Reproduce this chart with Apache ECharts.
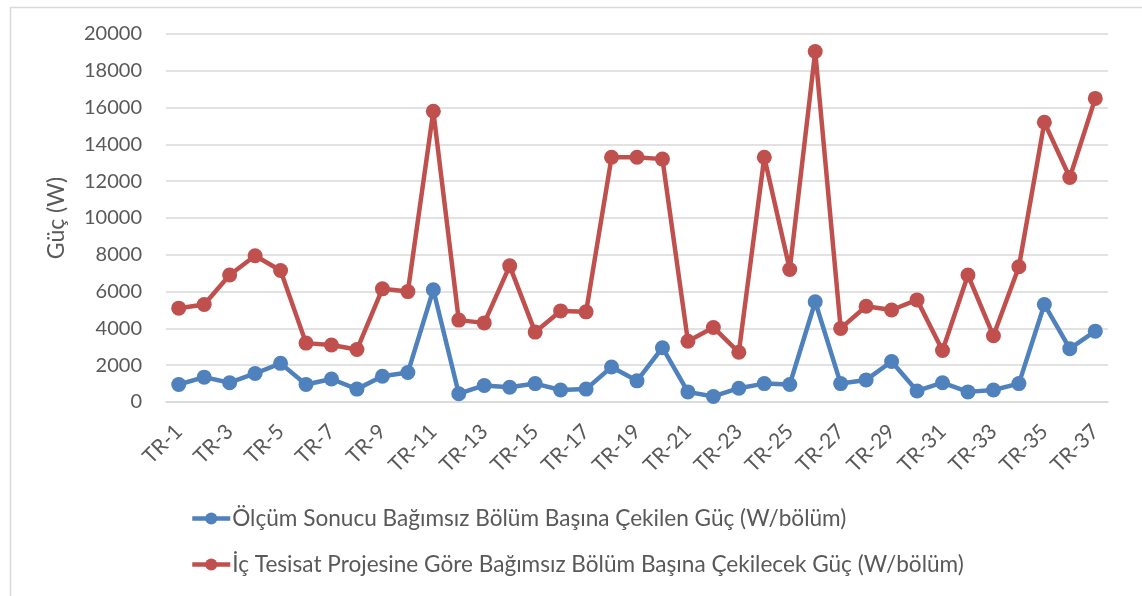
<!DOCTYPE html>
<html>
<head>
<meta charset="utf-8">
<script src="https://cdn.jsdelivr.net/npm/echarts@6/dist/echarts.min.js"></script>
<style>
html,body{margin:0;padding:0;background:#fff;}
#chart{width:1142px;height:596px;}
</style>
</head>
<body>
<div id="chart"></div>
<script>
const categories = ['TR-1','TR-2','TR-3','TR-4','TR-5','TR-6','TR-7','TR-8','TR-9','TR-10','TR-11','TR-12','TR-13','TR-14','TR-15','TR-16','TR-17','TR-18','TR-19','TR-20','TR-21','TR-22','TR-23','TR-24','TR-25','TR-26','TR-27','TR-28','TR-29','TR-30','TR-31','TR-32','TR-33','TR-34','TR-35','TR-36','TR-37'];
const measured = [950,1350,1050,1550,2100,950,1250,700,1400,1600,6100,450,900,800,1000,650,700,1900,1150,2950,550,300,750,1000,950,5450,1000,1200,2200,600,1050,550,650,1000,5300,2900,3850];
const projected = [5100,5300,6900,7950,7150,3200,3100,2850,6150,6000,15800,4450,4300,7400,3800,4950,4900,13300,13300,13200,3300,4050,2700,13300,7200,19050,4000,5200,5000,5550,2800,6900,3600,7350,15200,12200,16500];
const seriesNames = ['Ölçüm Sonucu Bağımsız Bölüm Başına Çekilen Güç (W/bölüm)','İç Tesisat Projesine Göre Bağımsız Bölüm Başına Çekilecek Güç (W/bölüm)'];
const yTitle = 'Güç (W)';

const FONT = 'Lato';
const chart = echarts.init(document.getElementById('chart'), null, {renderer:'canvas'});
chart.setOption({
  animation:false,
  backgroundColor:'#fff',
  graphic:[{type:'rect',left:8,top:5,shape:{width:1200,height:700},style:{fill:'none',stroke:'#d9d9d9',lineWidth:1.5},z:-1,silent:true}],
  grid:{left:166,right:34,top:34,bottom:194,containLabel:false},
  legend:{
    orient:'vertical',left:190,top:507,padding:0,itemGap:23,itemWidth:38,itemHeight:15,
    lineStyle:{width:4.5},
    textStyle:{fontFamily:FONT,fontSize:22.6,color:'#595959',padding:[0,0,0,-3]},
    data:seriesNames
  },
  xAxis:{
    type:'category',data:categories,boundaryGap:true,
    axisLine:{lineStyle:{color:'#d9d9d9',width:1.5}},
    axisTick:{show:false},
    axisLabel:{interval:1,rotate:45,margin:26,fontFamily:FONT,fontSize:21,color:'#595959'}
  },
  yAxis:{
    type:'value',min:0,max:20000,interval:2000,
    name:yTitle,nameLocation:'middle',nameGap:98,nameRotate:90,
    nameTextStyle:{fontFamily:FONT,fontSize:23,color:'#595959'},
    axisLine:{show:false},axisTick:{show:false},
    splitLine:{lineStyle:{color:'#d9d9d9',width:1.5}},
    axisLabel:{margin:24,fontFamily:FONT,fontSize:20,color:'#595959',formatter:v=>String(v)}
  },
  series:[
    {name:seriesNames[0],type:'line',data:measured,symbol:'circle',symbolSize:15,
     lineStyle:{color:'#4F81BD',width:4.5},itemStyle:{color:'#4F81BD'}},
    {name:seriesNames[1],type:'line',data:projected,symbol:'circle',symbolSize:15,
     lineStyle:{color:'#C0504D',width:4.5},itemStyle:{color:'#C0504D'}}
  ]
});
</script>
</body>
</html>
